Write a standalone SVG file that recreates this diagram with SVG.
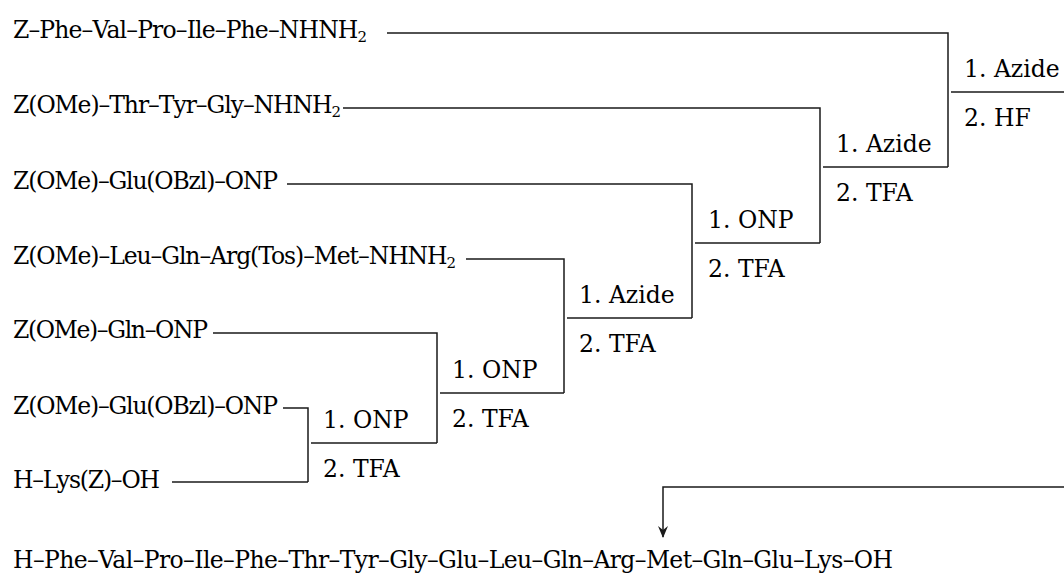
<svg xmlns="http://www.w3.org/2000/svg" width="1064" height="575" viewBox="0 0 1064 575">
<style>
  text { font-family: "DejaVu Serif", "Liberation Serif", serif; font-size: 23.5px; fill: #000; }
  .sub { font-size: 15px; }
  .ln { fill: none; stroke: #1a1a1a; stroke-width: 1.5; }
</style>
<defs>
  <marker id="arr" markerWidth="14" markerHeight="14" refX="12" refY="7" orient="auto" markerUnits="userSpaceOnUse" viewBox="0 0 14 14">
    <path d="M13,7 L1,2 L5,7 L1,12 Z" fill="#1a1a1a"/>
  </marker>
</defs>
<rect width="1064" height="575" fill="#fff"/>

<g id="connectors">
  <path class="ln" d="M387,33 H948 V167"/>
  <path class="ln" d="M343,108 H820 V243"/>
  <path class="ln" d="M287,184 H692 V318"/>
  <path class="ln" d="M466,259 H564 V393"/>
  <path class="ln" d="M213,333 H437 V443"/>
  <path class="ln" d="M283,408 H308 V482"/>
  <path class="ln" d="M172,482 H308"/>
  <path class="ln" d="M311,443 H437"/>
  <path class="ln" d="M440,393 H564"/>
  <path class="ln" d="M567,318 H692"/>
  <path class="ln" d="M695,243 H820"/>
  <path class="ln" d="M823,167 H948"/>
  <path class="ln" d="M951,92 H1064"/>
  <path class="ln" d="M1064,487 H663 V537" marker-end="url(#arr)"/>
</g>

<g id="n1"><text x="13" y="38" textLength="354">Z–Phe–Val–Pro–Ile–Phe–NHNH<tspan class="sub" dy="4">2</tspan></text></g>
<g id="n2"><text x="13" y="113" textLength="328">Z(OMe)–Thr–Tyr–Gly–NHNH<tspan class="sub" dy="4">2</tspan></text></g>
<g id="n3"><text x="13" y="189" textLength="265">Z(OMe)–Glu(OBzl)–ONP</text></g>
<g id="n4"><text x="13" y="264" textLength="443">Z(OMe)–Leu–Gln–Arg(Tos)–Met–NHNH<tspan class="sub" dy="4">2</tspan></text></g>
<g id="n5"><text x="13" y="338" textLength="195">Z(OMe)–Gln–ONP</text></g>
<g id="n6"><text x="13" y="414" textLength="265">Z(OMe)–Glu(OBzl)–ONP</text></g>
<g id="n7"><text x="13" y="488" textLength="147">H–Lys(Z)–OH</text></g>

<g id="stepA"><text x="323" y="428">1. ONP</text><text x="323" y="477">2. TFA</text></g>
<g id="stepB"><text x="452" y="378">1. ONP</text><text x="452" y="427">2. TFA</text></g>
<g id="stepC"><text x="579" y="303">1. Azide</text><text x="579" y="352">2. TFA</text></g>
<g id="stepD"><text x="708" y="228">1. ONP</text><text x="708" y="277">2. TFA</text></g>
<g id="stepE"><text x="836" y="152">1. Azide</text><text x="836" y="201">2. TFA</text></g>
<g id="stepF"><text x="964" y="77">1. Azide</text><text x="964" y="126">2. HF</text></g>

<g id="product"><text x="13" y="568" textLength="880">H–Phe–Val–Pro–Ile–Phe–Thr–Tyr–Gly–Glu–Leu–Gln–Arg–Met–Gln–Glu–Lys–OH</text></g>
</svg>
